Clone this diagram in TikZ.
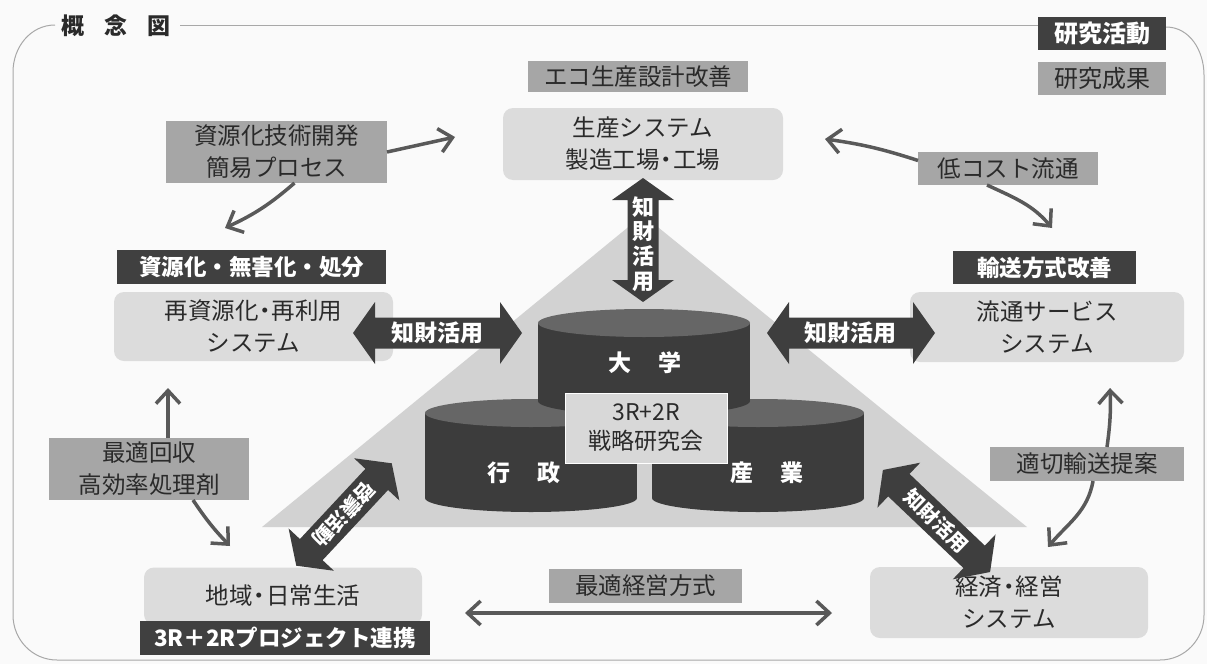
\documentclass[tikz,border=0pt]{standalone}
\usepackage{fontspec}
\setmainfont{Noto Sans CJK JP}
\usetikzlibrary{arrows.meta}
\definecolor{bgc}{HTML}{FAFAFA}
\definecolor{framec}{HTML}{A8A8A8}
\definecolor{lightc}{HTML}{DCDCDC}
\definecolor{midc}{HTML}{A6A6A6}
\definecolor{darkc}{HTML}{404040}
\definecolor{tric}{HTML}{D2D2D2}
\definecolor{txtc}{HTML}{2A2A2A}
\definecolor{connc}{HTML}{595959}
\definecolor{cylbody}{HTML}{3C3C3C}
\definecolor{cyltop}{HTML}{666666}
\definecolor{fatc}{HTML}{3E3E3E}
\definecolor{cboxc}{HTML}{D8D8D8}
\newcommand{\fsz}{\fontsize{23.5}{32}\selectfont}
\newcommand{\fsd}{\fontsize{22.5}{30}\selectfont}
\newcommand{\fsv}{\fontsize{22}{24.7}\selectfont}
\newcommand{\nd}{\kern-0.22em・\kern-0.22em}
\begin{document}
\begin{tikzpicture}[x=1pt,y=-1pt,
  every node/.style={inner sep=0pt,outer sep=0pt},
  lightbox/.style={fill=lightc,rounded corners=10pt,align=center,text=txtc,font=\fsz},
  midbox/.style={fill=midc,align=center,text=txtc,font=\fsz},
  darkbox/.style={fill=darkc,align=center,text=white,font=\fsd\bfseries},
  fattext/.style={text=white,font=\fontsize{23}{26}\selectfont\bfseries,align=center},
  diagtext/.style={text=white,font=\fontsize{20}{24}\selectfont\bfseries},
  cyltext/.style={text=white,font=\fontsize{23}{26}\selectfont\bfseries},
  conn/.style={draw=connc,line width=3.5pt},
  tipr/.style={-{Straight Barb[length=13pt,width=24pt]}},
  tipb/.style={{Straight Barb[length=13pt,width=24pt]}-{Straight Barb[length=13pt,width=24pt]}},
  fatdbl/.pic={\fill[fatc] (-#1,0) -- ++(22,-31) -- ++(0,15.5) -- (#1-22,-15.5) -- ++(0,-15.5) -- (#1,0) -- ++(-22,31) -- ++(0,-15.5) -- (-#1+22,15.5) -- ++(0,15.5) -- cycle;}
]
\useasboundingbox (0,0) rectangle (1207,664);
\fill[bgc] (0,0) rectangle (1207,664);
% frame
\draw[framec,line width=1pt] (55,25) to[out=180,in=90] (13,72) -- (13,615) to[out=-90,in=180] (57,660) -- (1160,660) to[out=0,in=-90] (1204,615) -- (1204,75) to[out=90,in=0] (1166,27);
\draw[framec,line width=1pt] (180,25) -- (1038,25);
\node[font=\fontsize{23}{26}\selectfont\bfseries,text=txtc] (title) at (116,26) {概\hspace{20pt}念\hspace{20pt}図};
% legend
\node[darkbox,font=\fontsize{24}{26}\selectfont\bfseries,minimum width=128pt,minimum height=33pt] (leg1) at (1102,33.5) {研究活動};
\node[midbox,font=\fontsize{24}{26}\selectfont,minimum width=128pt,minimum height=33pt] (leg2) at (1102,78.5) {研究成果};
% triangle
\fill[tric] (643,215) -- (1027,527) -- (262,527) -- cycle;
% label boxes
\node[midbox,minimum width=220pt,minimum height=31pt] (eco) at (638,76.5) {エコ生産設計改善};
\node[lightbox,minimum width=280pt,minimum height=72pt] (prod) at (643,144) {生産システム\\製造工場\nd 工場};
\node[midbox,minimum width=221pt,minimum height=62pt] (resdev) at (276.5,152) {資源化技術開発\\簡易プロセス};
\node[midbox,minimum width=180pt,minimum height=33pt] (lowcost) at (1008,168.5) {低コスト流通};
\node[darkbox,minimum width=269pt,minimum height=34pt] (shigen) at (251.5,267) {資源化・無害化・処分};
\node[darkbox,minimum width=183pt,minimum height=33pt] (yuso) at (1044.5,267.5) {輸送方式改善};
\node[lightbox,minimum width=279pt,minimum height=69pt] (recyc) at (253.5,326.5) {再資源化\nd 再利用\\システム};
\node[lightbox,minimum width=274pt,minimum height=70pt] (ryutsu) at (1047,327) {流通サービス\\システム};
\node[midbox,minimum width=200pt,minimum height=62pt] (kaishu) at (149,469) {最適回収\\高効率処理剤};
\node[midbox,minimum width=194pt,minimum height=34pt] (tekisetsu) at (1087,464) {適切輸送提案};
\node[lightbox,minimum width=278pt,minimum height=57pt] (chiiki) at (283,596) {地域\nd 日常生活};
\node[darkbox,minimum width=290pt,minimum height=34pt] (proj) at (285,638) {3R＋2Rプロジェクト連携};
\node[midbox,minimum width=193pt,minimum height=34pt] (keieilab) at (645.5,586) {最適経営方式};
\node[lightbox,minimum width=278pt,minimum height=71pt] (keizai) at (1009,602.5) {経済\nd 経営\\システム};
% thin connectors
\coordinate (tA) at (455,137);
\coordinate (tB) at (225,228);
\coordinate (tC) at (825,139);
\coordinate (tD) at (1052,228);
\coordinate (tE) at (168,388);
\coordinate (tF) at (230,546);
\coordinate (tG) at (1110,388);
\coordinate (tH) at (1048,547);
\coordinate (tL) at (465,613);
\coordinate (tR) at (832,613);
\draw[conn,tipr] (resdev.east) -- (tA);
\draw[conn,tipr] ([xshift=18pt]resdev.south) to[bend left=8] (tB);
\draw[conn,tipr] ([yshift=8pt]lowcost.west) to[bend right=5] (tC);
\draw[conn,tipr] ([xshift=-21pt]lowcost.south) to[out=-25,in=130] (tD);
\draw[conn,tipr] ([xshift=19pt]kaishu.north) -- (tE);
\draw[conn,tipr] ([xshift=44pt]kaishu.south) to[bend right=5] (tF);
\draw[conn,tipr] ([xshift=20pt]tekisetsu.north) to[bend right=5] (tG);
\draw[conn,tipr] ([xshift=6pt]tekisetsu.south) to[out=-100,in=50] (tH);
\draw[conn,tipb] (tL) -- (tR);
% fat arrows
\pic[rotate=90] at (643,240) {fatdbl=62};
\node[fattext,font=\fsv\bfseries] (fv) at (643,244) {知\\財\\活\\用};
\pic at (437.5,333) {fatdbl=84.5};
\node[fattext] (fl) at (437,333) {知財活用};
\pic at (851,333) {fatdbl=84};
\node[fattext] (fr) at (850,333) {知財活用};
\pic[rotate=-43.6] at (936.5,521) {fatdbl=74};
\node[diagtext,rotate=-44] (fd) at (936.5,521) {知財活用};
\pic[rotate=47] at (344,514.5) {fatdbl=70};
\node[diagtext,rotate=-133] (fk) at (344,514.5) {啓蒙活動};
% cylinders
\fill[cylbody] (425,413) rectangle (637,498);
\fill[cylbody] (531,498) ellipse [x radius=106pt, y radius=14pt];
\fill[cyltop] (531,413) ellipse [x radius=106pt, y radius=14pt];
\fill[cylbody] (652,413) rectangle (864,498);
\fill[cylbody] (758,498) ellipse [x radius=106pt, y radius=14pt];
\fill[cyltop] (758,413) ellipse [x radius=106pt, y radius=14pt];
\fill[cylbody] (538,323) rectangle (750,401);
\fill[cylbody] (644,401) ellipse [x radius=106pt, y radius=14pt];
\fill[cyltop] (644,323) ellipse [x radius=106pt, y radius=14pt];
\node[cyltext] (univ) at (645,363) {大\hspace{28pt}学};
\node[cyltext] (gov) at (524,473) {行\hspace{27pt}政};
\node[cyltext] (ind) at (767,473) {産\hspace{27pt}業};
\node[fill=cboxc,draw=white,line width=1pt,minimum width=162pt,minimum height=70pt,align=center,text=txtc,font=\fontsize{23}{29}\selectfont] (center) at (646,428) {3R+2R\\戦略研究会};
\end{tikzpicture}
\end{document}
